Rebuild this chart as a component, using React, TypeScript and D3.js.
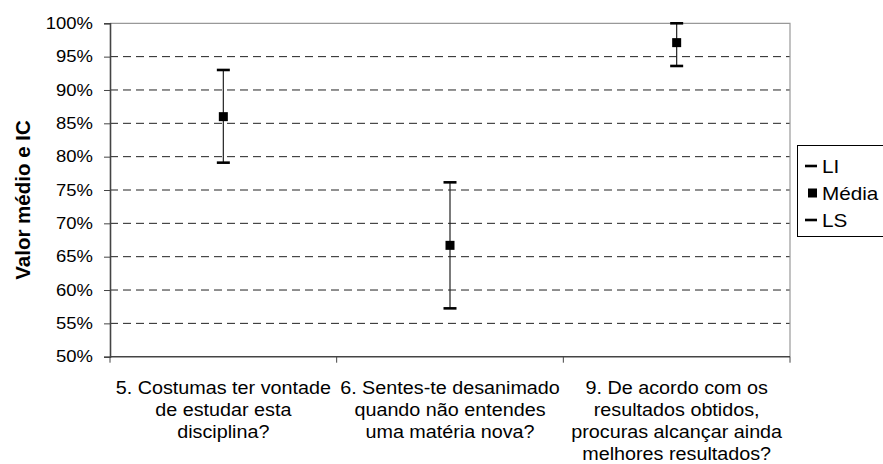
import React, { useEffect, useRef } from "react";
import * as d3 from "d3";

const categories = [
  ["5. Costumas ter vontade", "de estudar esta", "disciplina?"],
  ["6. Sentes-te desanimado", "quando não entendes", "uma matéria nova?"],
  ["9. De acordo com os", "resultados obtidos,", "procuras alcançar ainda", "melhores resultados?"],
];
const li = [0.791, 0.5725, 0.936];
const media = [0.86, 0.667, 0.971];
const ls = [0.93, 0.7615, 1.0];
const yTicks = [0.5, 0.55, 0.6, 0.65, 0.7, 0.75, 0.8, 0.85, 0.9, 0.95, 1.0];
const legendItems = ["LI", "Média", "LS"];

const FONT = "'Liberation Sans', Arial, sans-serif";

export default function App() {
  const ref = useRef<SVGSVGElement | null>(null);

  useEffect(() => {
    const width = 883;
    const height = 464;
    const plot = { left: 110, right: 790, top: 23.3, bottom: 356.7 };

    const svg = d3.select(ref.current).attr("width", width).attr("height", height);
    svg.selectAll("*").remove();

    const keys = categories.map((_, i) => String(i));
    const x = d3.scaleBand<string>().domain(keys).range([plot.left, plot.right]).padding(0);
    const y = d3.scaleLinear().domain([0.5, 1]).range([plot.bottom, plot.top]);
    const fmt = d3.format(".0%");

    // grid lines
    svg
      .append("g")
      .selectAll("line")
      .data(yTicks.filter((t) => t > 0.5 && t < 1))
      .join("line")
      .attr("x1", plot.left)
      .attr("x2", plot.right)
      .attr("y1", (d) => y(d))
      .attr("y2", (d) => y(d))
      .attr("stroke", "#222")
      .attr("stroke-width", 1)
      .attr("stroke-dasharray", "8,5");

    // top and right border
    svg
      .append("path")
      .attr("d", `M${plot.left},${y(1)}H${plot.right}V${plot.bottom}`)
      .attr("fill", "none")
      .attr("stroke", "#999")
      .attr("stroke-width", 1.2);

    // y axis
    const sx = 1.12;
    const yAxis = svg
      .append("g")
      .attr("transform", `translate(${plot.left},0)`)
      .call(d3.axisLeft(y).tickValues(yTicks).tickFormat((d) => fmt(d as number)).tickSize(6).tickPadding(11));
    yAxis.select(".domain").attr("stroke", "#444").attr("stroke-width", 1.6);
    yAxis.selectAll(".tick line").attr("stroke", "#444");
    yAxis
      .selectAll(".tick text")
      .attr("font-family", FONT)
      .attr("font-size", 16.5)
      .attr("fill", "#000")
      .attr("x", -17 / sx)
      .attr("transform", `scale(${sx},1)`);

    // x axis
    const xAxis = svg.append("g");
    xAxis
      .append("line")
      .attr("x1", plot.left)
      .attr("x2", plot.right)
      .attr("y1", plot.bottom)
      .attr("y2", plot.bottom)
      .attr("stroke", "#444")
      .attr("stroke-width", 1.6);
    const bounds = [...keys.map((k) => x(k) as number), plot.right];
    xAxis
      .selectAll("line.tk")
      .data(bounds)
      .join("line")
      .attr("class", "tk")
      .attr("x1", (d) => d)
      .attr("x2", (d) => d)
      .attr("y1", plot.bottom)
      .attr("y2", plot.bottom + 6)
      .attr("stroke", "#444");

    // category labels
    categories.forEach((lines, i) => {
      const cx = (x(String(i)) as number) + x.bandwidth() / 2;
      const t = svg
        .append("text")
        .attr("transform", `translate(${cx},0) scale(1.13,1)`)
        .attr("font-family", FONT)
        .attr("font-size", 17.5)
        .attr("text-anchor", "middle")
        .attr("fill", "#000");
      lines.forEach((ln, j) => {
        t.append("tspan").attr("x", 0).attr("y", 394 + j * 22).text(ln);
      });
    });

    // error bars
    const g = svg.append("g");
    keys.forEach((k, i) => {
      const cx = (x(k) as number) + x.bandwidth() / 2;
      g.append("line")
        .attr("x1", cx)
        .attr("x2", cx)
        .attr("y1", y(li[i]))
        .attr("y2", y(ls[i]))
        .attr("stroke", "#222")
        .attr("stroke-width", 1.2);
      [li[i], ls[i]].forEach((v) => {
        g.append("line")
          .attr("x1", cx - 6.5)
          .attr("x2", cx + 6.5)
          .attr("y1", y(v))
          .attr("y2", y(v))
          .attr("stroke", "#000")
          .attr("stroke-width", 2.6);
      });
      g.append("rect")
        .attr("x", cx - 4.5)
        .attr("y", y(media[i]) - 4.5)
        .attr("width", 9)
        .attr("height", 9)
        .attr("fill", "#000");
    });

    // y title
    svg
      .append("text")
      .attr("transform", `translate(30,${(plot.top + plot.bottom) / 2 + 10}) rotate(-90)`)
      .attr("text-anchor", "middle")
      .attr("font-family", FONT)
      .attr("font-size", 20.5)
      .attr("font-weight", "bold")
      .attr("fill", "#000")
      .text("Valor médio e IC");

    // legend
    const lg = svg.append("g");
    lg.append("rect")
      .attr("x", 797.5)
      .attr("y", 145.5)
      .attr("width", 100)
      .attr("height", 91)
      .attr("fill", "#fff")
      .attr("stroke", "#000")
      .attr("stroke-width", 1);
    const ly = d3.scalePoint<string>().domain(legendItems).range([166, 220]);
    legendItems.forEach((name) => {
      const cy = ly(name) as number;
      if (name === "Média") {
        lg.append("rect").attr("x", 808).attr("y", cy - 4.5).attr("width", 9).attr("height", 9).attr("fill", "#000");
      } else {
        lg.append("line")
          .attr("x1", 805)
          .attr("x2", 817)
          .attr("y1", cy)
          .attr("y2", cy)
          .attr("stroke", "#000")
          .attr("stroke-width", 2.6);
      }
      lg.append("text")
        .attr("transform", `translate(822,${cy + 6.5}) scale(1.15,1)`)
        .attr("font-family", FONT)
        .attr("font-size", 18)
        .attr("fill", "#000")
        .text(name);
    });
  }, []);

  return (
    <div style={{ position: "absolute", left: 0, top: 0, background: "#fff" }}>
      <svg ref={ref} style={{ display: "block" }}></svg>
    </div>
  );
}
